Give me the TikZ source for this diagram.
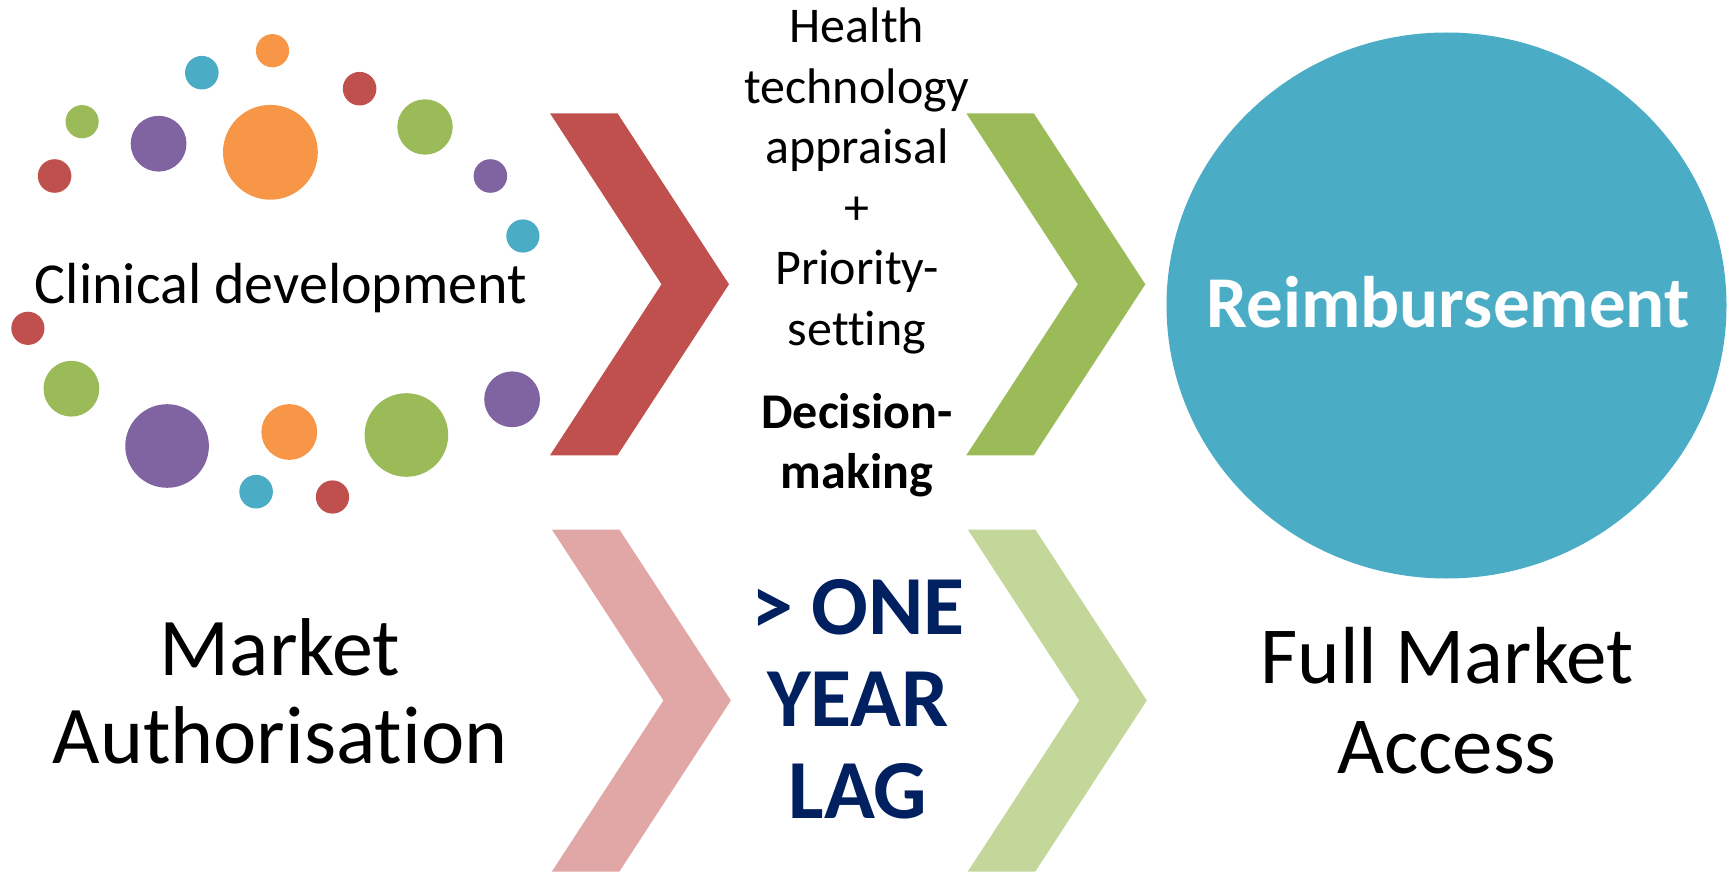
\documentclass[tikz,border=0pt]{standalone}
\usepackage{fontspec}
\setmainfont{Carlito}[Ligatures={NoCommon}]
\definecolor{cred}{HTML}{C0504D}
\definecolor{cgreen}{HTML}{9BBB59}
\definecolor{cpink}{HTML}{E0A7A6}
\definecolor{clgreen}{HTML}{C4D79B}
\definecolor{cblue}{HTML}{4BACC6}
\definecolor{corange}{HTML}{F79646}
\definecolor{cpurple}{HTML}{8064A2}
\definecolor{cnavy}{HTML}{002060}
\begin{document}
\begin{tikzpicture}[x=1pt,y=-1pt,
  lbl/.style={inner sep=0pt, anchor=base, align=center},
  chev/.pic={\fill (0,0) -- (67.5,0) -- (179,171) -- (67.5,342) -- (0,342) -- (111.5,171) -- cycle;}]
\useasboundingbox (0,0) rectangle (1733,872);
% dots
\foreach \x/\y/\r/\c in {
  272.5/50.7/16.6/corange, 201.8/72.7/16.8/cblue, 359.6/88.7/16.8/cred,
  82.1/121.7/16.6/cgreen, 158.6/143.7/27.9/cpurple, 270.4/152.3/47.4/corange,
  425/127/27.7/cgreen, 54.6/176/16.8/cred, 490.4/176/16.8/cpurple,
  522.9/236/16.6/cblue, 27.9/328.3/16.6/cred, 71.4/388.7/27.9/cgreen,
  167.1/446/41.8/cpurple, 289.3/432/27.9/corange, 406.4/435/41.8/cgreen,
  512.1/399.3/27.9/cpurple, 256.1/491.7/16.8/cblue, 332.5/497/16.6/cred}
  \fill[\c] (\x,\y) circle[radius=\r pt];
% chevrons
\pic[fill=cred] at (550,113.3) {chev};
\pic[fill=cgreen] at (966.3,113.3) {chev};
\pic[fill=cpink] at (551.9,529.5) {chev};
\pic[fill=clgreen] at (967.8,529.5) {chev};
% big circle
\fill[cblue] (1446.5,305.5) ellipse[x radius=280pt, y radius=273pt];
% texts (base anchor = baseline of the last line)
\node[lbl, font=\fontsize{58}{70}\selectfont] (clin) at (281,303) {Clinical development};
\node[lbl, font=\fontsize{50}{60.5}\selectfont] (hta) at (857,345.2)
  {Health\\technology\\appraisal\\+\\Priority-\\setting};
\node[lbl, font=\bfseries\fontsize{50}{60}\selectfont] (dec) at (857,488.3) {Decision-\\making};
\node[lbl, font=\bfseries\fontsize{73}{88}\selectfont, text=white] (reimb) at (1448,327.6) {Reimbursement};
\node[lbl, font=\fontsize{82}{88.3}\selectfont] (ma) at (280,763.3) {Market\\Authorisation};
\node[lbl, font=\bfseries\fontsize{84}{92}\selectfont, text=cnavy] (lag) at (858,818.3) {> ONE\\YEAR\\LAG};
\node[lbl, font=\fontsize{81}{90}\selectfont] (fma) at (1447,773.3) {Full Market\\Access};
\end{tikzpicture}
\end{document}
